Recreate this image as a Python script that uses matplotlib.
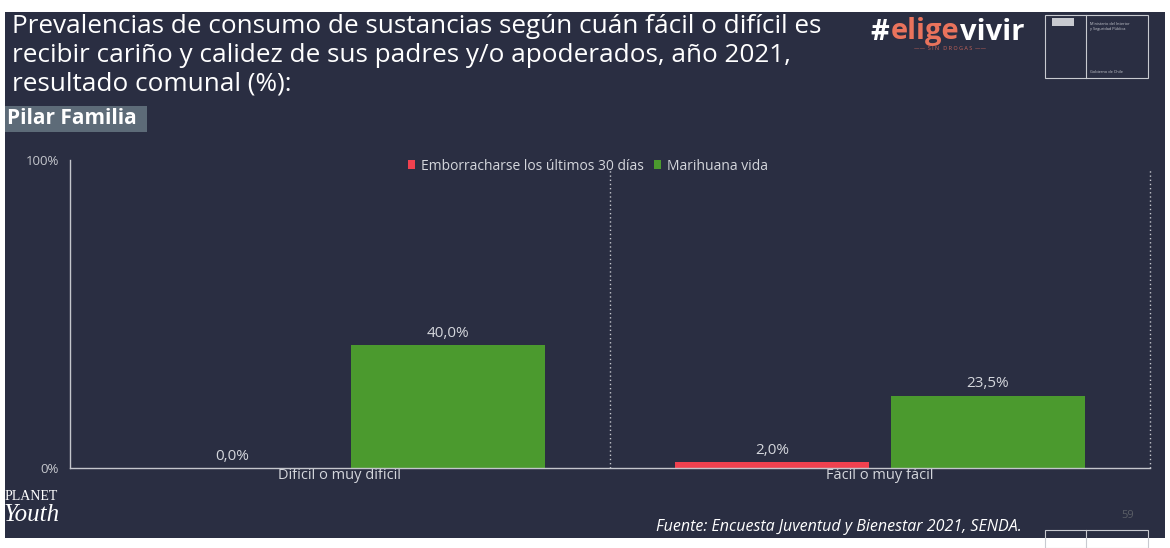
import matplotlib.pyplot as plt
from matplotlib.patches import Rectangle
from matplotlib.lines import Line2D

categorias = ["Difícil o muy difícil", "Fácil o muy fácil"]
emborracharse = [0.0, 2.0]
marihuana = [40.0, 23.5]
series = ["Emborracharse los últimos 30 días", "Marihuana vida"]

BG = "#2a2e42"
ROJO = "#f0414f"
VERDE = "#4b9a2e"
GRIS = "#d4d6dc"

plt.rcParams["font.family"] = ["Open Sans", "DejaVu Sans"]

W, H = 1170, 548
fig = plt.figure(figsize=(W / 100, H / 100), dpi=100, facecolor="white")


def px(x, y):
    return x / W, 1 - y / H


# slide background
fig.patches.append(Rectangle(px(5, 538), 1160 / W, 526 / H, transform=fig.transFigure,
                             facecolor=BG, edgecolor="none", zorder=0))

titulo = ("Prevalencias de consumo de sustancias según cuán fácil o difícil es\n"
          "recibir cariño y calidez de sus padres y/o apoderados, año 2021,\n"
          "resultado comunal (%):")
fig.text(*px(12, 14), titulo, color="white", fontsize=18.8, va="top", ha="left",
         linespacing=1.2, zorder=3)

# "Pilar Familia" tab
fig.patches.append(Rectangle(px(5, 132), 142 / W, 26 / H, transform=fig.transFigure,
                             facecolor="#5d6b78", edgecolor="none", zorder=1))
fig.text(*px(7, 119), "Pilar Familia", color="white", fontsize=15, fontweight="bold",
         va="center", ha="left", zorder=3)

# campaign logo
x0, y0 = px(870, 32)
t = fig.text(x0, y0, "#", color="white", fontsize=21, fontweight="bold", va="center", zorder=3)
fig.canvas.draw()
r = fig.canvas.get_renderer()
bb = t.get_window_extent(r)
t2 = fig.text(bb.x1 / W + 0.002, y0, "elige", color="#e9735c", fontsize=21,
              fontweight="bold", va="center", zorder=3)
bb2 = t2.get_window_extent(r)
fig.text(bb2.x1 / W, y0, "vivir", color="white", fontsize=21, fontweight="bold",
         va="center", zorder=3)
fig.text(*px(950, 48), "——  S I N   D R O G A S  ——", color="#c9655a", fontsize=4,
         ha="center", va="center", zorder=3)

# government logo box
fig.patches.append(Rectangle(px(1045, 78), 103 / W, 63 / H, transform=fig.transFigure,
                             facecolor="none", edgecolor="#c8cad0", lw=0.8, zorder=3))
fig.lines.append(Line2D([1086 / W, 1086 / W], [1 - 15 / H, 1 - 78 / H],
                        transform=fig.transFigure, color="#c8cad0", lw=0.8, zorder=3))
fig.text(*px(1090, 22), "Ministerio del Interior\ny Seguridad Pública", color="#c8cad0",
         fontsize=2.8, va="top", zorder=3)
fig.text(*px(1090, 72), "Gobierno de Chile", color="#c8cad0", fontsize=2.8, va="center",
         zorder=3)
fig.patches.append(Rectangle(px(1052, 26), 22 / W, 8 / H, transform=fig.transFigure,
                             facecolor="#c8cad0", edgecolor="none", zorder=3))

# chart
ax = fig.add_axes([70 / W, 1 - 468 / H, 1080 / W, 308 / H], zorder=5)
ax.set_facecolor("none")
x = range(len(categorias))
ancho = 0.36
off = 0.2
b1 = ax.bar([i - off for i in x], emborracharse, ancho, color=ROJO, label=series[0])
b2 = ax.bar([i + off for i in x], marihuana, ancho, color=VERDE, label=series[1])
for barras, vals in ((b1, emborracharse), (b2, marihuana)):
    for b, v in zip(barras, vals):
        ax.annotate(f"{v:.1f}%".replace(".", ","), (b.get_x() + b.get_width() / 2, v),
                    xytext=(0, 3), textcoords="offset points", ha="center", va="bottom",
                    color=GRIS, fontsize=11)

ax.set_xlim(-0.5, 1.5)
ax.set_ylim(0, 100)
ax.set_yticks([0, 100])
ax.set_yticklabels(["0%", "100%"])
ax.set_xticks(list(x))
ax.set_xticklabels(categorias)
ax.tick_params(axis="y", colors="#c4c6cc", labelsize=9.5, length=0, pad=8)
ax.tick_params(axis="x", colors=GRIS, labelsize=10.5, length=0, pad=0)
for s in ("top", "right"):
    ax.spines[s].set_visible(False)
for s in ("left", "bottom"):
    ax.spines[s].set_color("#c4c6cc")
    ax.spines[s].set_linewidth(1)
for xv in (0.5, 1.5):
    ax.plot([xv, xv], [0, 97], color="#c4c6cc", lw=1, ls=(0, (1, 2)), clip_on=False)

leg = ax.legend(loc="center", bbox_to_anchor=(px(588, 166)), bbox_transform=fig.transFigure,
                ncol=2, frameon=False, fontsize=10, labelcolor=GRIS, handlelength=0.5,
                handleheight=0.6, handletextpad=0.4, columnspacing=0.8)

# footer
fig.text(*px(5, 497), "PLANET", color="white", fontsize=10, family="Liberation Serif",
         va="center", zorder=3)
fig.text(*px(4, 515), "Youth", color="white", fontsize=18, style="italic",
         family="Liberation Serif", va="center", zorder=3)
fig.text(*px(1022, 527), "Fuente: Encuesta Juventud y Bienestar 2021, SENDA.", color="white",
         fontsize=11.5, style="italic", ha="right", va="center", zorder=3)
fig.text(*px(1128, 515), "59", color="#5a5e66", fontsize=8, ha="center", va="center",
         zorder=3)
fig.patches.append(Rectangle(px(1045, 548), 103 / W, 18 / H, transform=fig.transFigure,
                             facecolor="none", edgecolor="#c8cad0", lw=0.8, zorder=3))
fig.lines.append(Line2D([1086 / W, 1086 / W], [0, 18 / H], transform=fig.transFigure,
                        color="#c8cad0", lw=0.8, zorder=3))

fig.savefig("out.png", dpi=100, facecolor="white")
